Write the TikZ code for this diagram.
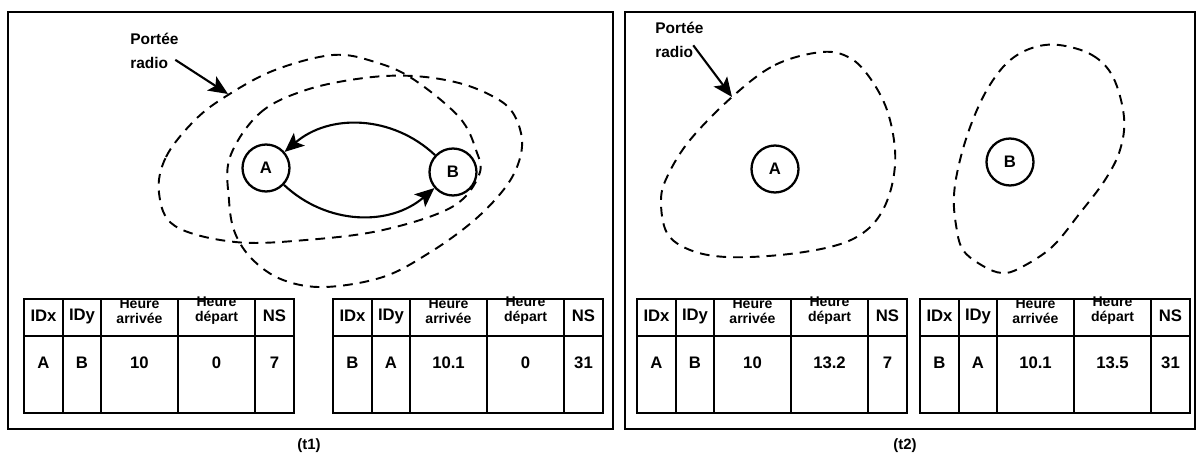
\documentclass[tikz,border=0pt]{standalone}
\usepackage{fontspec}
\setmainfont{Liberation Sans}
\usetikzlibrary{arrows.meta}

\tikzset{
  panelframe/.style={line width=1.4pt},
  station/.style={circle, draw, line width=1.3pt, minimum size=0.94cm, inner sep=0pt,
    font=\bfseries\fontsize{9.5}{11}\selectfont},
  radiozone/.style={line width=1.1pt, dash pattern=on 5.5pt off 4pt},
  flowarrow/.style={line width=1.2pt, -{Stealth[length=11pt,width=9.5pt,inset=2.5pt]}},
  tablegrid/.style={line width=1.6pt},
  cell/.style={font=\bfseries\fontsize{9.5}{11}\selectfont, inner sep=0pt},
  headcell/.style={font=\bfseries\fontsize{8}{8.5}\selectfont, align=center, inner sep=0pt},
  notetext/.style={font=\bfseries\fontsize{8.8}{13.6}\selectfont, align=left, inner sep=0pt},
  captext/.style={font=\bfseries\fontsize{8.5}{10}\selectfont}
}

% neighbour table: name, left x, IDx, IDy, arrival, departure, NS
\newcommand{\nstable}[7]{
  \node[cell] (#1-hx) at (#2+19.5,316) {IDx};
  \node[cell] (#1-hy) at (#2+58,316) {IDy};
  \node[headcell] (#1-ha) at (#2+115.5,311) {Heure\\arrivée};
  \node[headcell] (#1-hd) at (#2+192.5,311) {Heure\\départ};
  \node[cell] (#1-hn) at (#2+250.5,316) {NS};
  \node[cell] (#1-vx) at (#2+19.5,363) {#3};
  \node[cell] (#1-vy) at (#2+58,363) {#4};
  \node[cell] (#1-va) at (#2+115.5,363) {#5};
  \node[cell] (#1-vd) at (#2+192.5,363) {#6};
  \node[cell] (#1-vn) at (#2+250.5,363) {#7};
  \draw[tablegrid] (#2,299) rectangle ++(270,114);
  \draw[tablegrid] (#2,336) -- ++(270,0);
  \foreach \cx in {39,77,154,231}
    \draw[tablegrid] (#2+\cx,299) -- ++(0,114);
}

\begin{document}
\begin{tikzpicture}[x=0.02cm, y=-0.02cm]
  \useasboundingbox (0,0) rectangle (1200,459);
  % two frames
  \draw[panelframe] (8,12) rectangle (613,429);
  \draw[panelframe] (625,12) rectangle (1195,429);
  \node[captext] (capa) at (309,446) {(t1)};
  \node[captext] (capb) at (905,446) {(t2)};

  % --- (t1): A and B in range ---
  \draw[radiozone] plot[smooth cycle, tension=0.6] coordinates {(159,193) (166,157) (195,120) (228,95)
    (275,70) (333,55) (375,62) (413,79) (459,117) (476,150) (479,175) (452,207) (383,230)
    (306,240) (235,242) (175,226)};
  \draw[radiozone] plot[smooth cycle, tension=0.6] coordinates {(230,157) (260,113) (306,90) (364,78)
    (413,76) (459,83) (494,97) (513,113) (522,140) (517,167) (501,193) (471,223) (429,253)
    (383,277) (325,287) (283,280) (253,260) (235,233) (229,200)};
  \node[station] (a1) at (266,168) {A};
  \node[station] (b1) at (453,172) {B};
  \draw[flowarrow] (b1) to[bend right=42] (a1);
  \draw[flowarrow] (a1) to[bend right=42] (b1);
  \node[notetext, anchor=north west] (portee1) at (130,33) {Portée\\radio};
  \coordinate (reach1) at (228,94);
  \draw[flowarrow] ([xshift=-2pt,yshift=-5pt]portee1.east) -- (reach1);

  % tables at t1
  \nstable{ta}{24}{A}{B}{10}{0}{7}
  \nstable{tb}{333}{B}{A}{10.1}{0}{31}

  % --- (t2): A and B apart ---
  \draw[radiozone] plot[smooth cycle, tension=0.6] coordinates {(732,97) (775,65) (822,52) (850,58)
    (870,78) (887,110) (895,150) (892,185) (880,215) (860,235) (830,247) (780,255) (726,257)
    (690,250) (667,233) (661,200) (668,175) (690,140)};
  \draw[radiozone] plot[smooth cycle, tension=0.6] coordinates {(1059,45) (1092,55) (1113,77)
    (1124,117) (1120,150) (1105,180) (1080,213) (1052,247) (1020,268) (1002,273) (983,266)
    (963,250) (956,225) (954,195) (960,160) (972,122) (988,88) (1008,62) (1032,48)};
  \node[station] (a2) at (775,169) {A};
  \node[station] (b2) at (1010,162) {B};
  \node[notetext, anchor=north west] (portee2) at (655,22) {Portée\\radio};
  \coordinate (reach2) at (732,97);
  \draw[flowarrow] ([xshift=-6pt,yshift=-3pt]portee2.east) -- (reach2);

  % tables at t2
  \nstable{tc}{637}{A}{B}{10}{13.2}{7}
  \nstable{td}{920}{B}{A}{10.1}{13.5}{31}
\end{tikzpicture}
\end{document}
